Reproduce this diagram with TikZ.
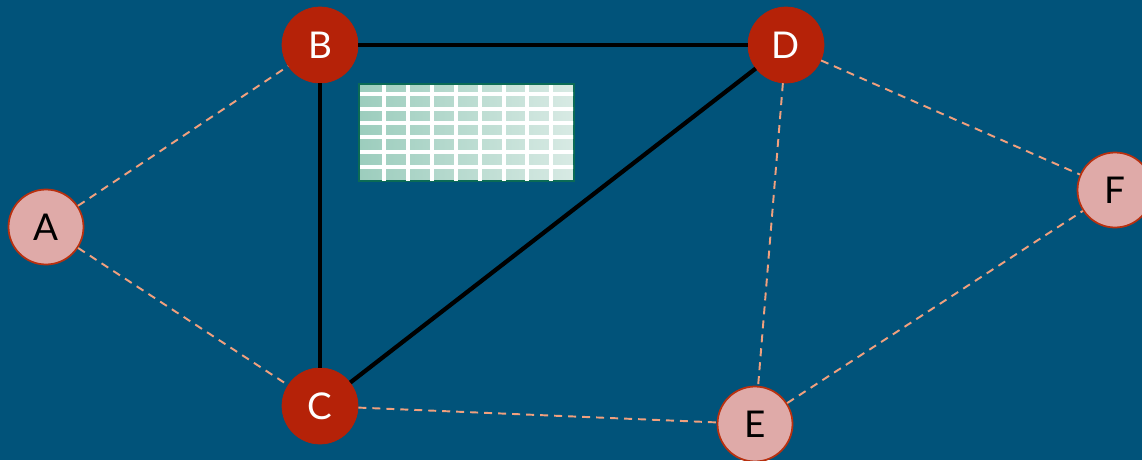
\documentclass[tikz,border=0pt]{standalone}
\usepackage{fontspec}
\setmainfont{Lato}
\definecolor{bg}{HTML}{01537A}
\definecolor{hub}{HTML}{B52208}
\definecolor{leaf}{HTML}{DFAAA8}
\definecolor{leafedge}{HTML}{B8300F}
\definecolor{link}{HTML}{F0A07E}
\definecolor{gridedge}{HTML}{0B6B55}
\definecolor{gridleft}{HTML}{9CCDBD}
\definecolor{gridright}{HTML}{D8EAE4}
\begin{document}
\begin{tikzpicture}[x=0.02cm,y=-0.02cm,
  hubnode/.style={circle,fill=hub,draw=hub,minimum size=1.52cm,inner sep=0pt,
    text=white,font=\fontsize{21}{24}\selectfont},
  leafnode/.style={circle,fill=leaf,draw=leafedge,line width=1pt,minimum size=1.5cm,inner sep=0pt,
    text=black,font=\fontsize{21}{24}\selectfont},
  strong/.style={line width=2.4pt,black},
  weak/.style={line width=1.1pt,link,dash pattern=on 0.16cm off 0.12cm}]
\fill[bg] (0,0) rectangle (1142,460);
\useasboundingbox (0,0) rectangle (1142,460);

% grid panel
\draw[gridedge,line width=1.5pt,left color=gridleft,right color=gridright]
  (359,84) rectangle (574,181);
\begin{scope}
\clip (360,85) rectangle (573,180);
\foreach \gx in {384,408,432,456,480,504,527,551}
  \draw[white,line width=2pt] (\gx,80) -- (\gx,185);
\foreach \gy in {94,109,123,137,152,167}
  \draw[white,line width=2pt] (355,\gy) -- (580,\gy);
\end{scope}

% nodes
\node[leafnode] (A) at (46,227) {A};
\node[hubnode] (B) at (320,45) {B};
\node[hubnode] (C) at (320,406) {C};
\node[hubnode] (D) at (786,45) {D};
\node[leafnode] (E) at (755,424) {E};
\node[leafnode] (F) at (1115,190) {F};

% links
\draw[strong] (B) -- (D);
\draw[strong] (B) -- (C);
\draw[strong] (C) -- (D);
\draw[weak] (A) -- (B);
\draw[weak] (A) -- (C);
\draw[weak] (C) -- (E);
\draw[weak] (D) -- (E);
\draw[weak] (D) -- (F);
\draw[weak] (E) -- (F);
\end{tikzpicture}
\end{document}
